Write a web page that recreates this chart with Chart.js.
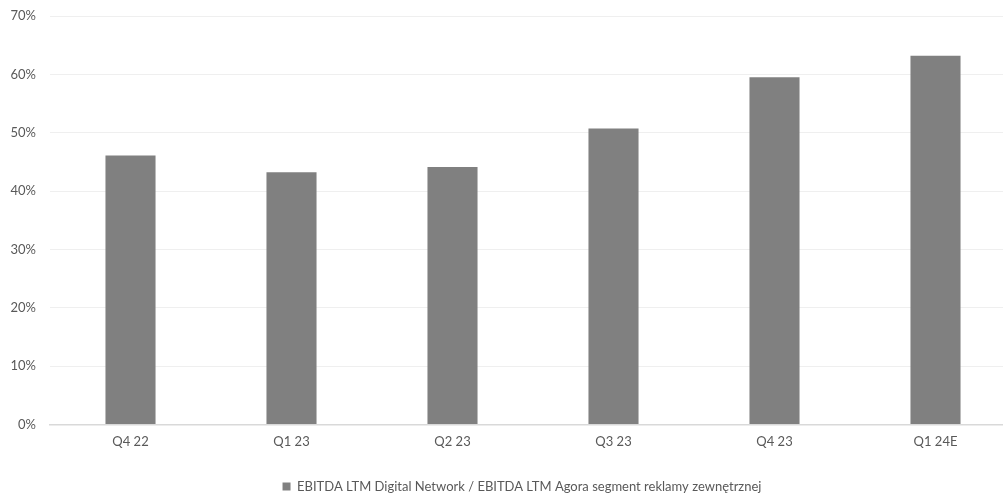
<!DOCTYPE html>
<html>
<head>
<meta charset="utf-8">
<script src="https://cdn.jsdelivr.net/npm/chart.js@4"></script>
<style>
  html, body { margin: 0; padding: 0; background: #ffffff; overflow: hidden; }
  #wrap { width: 1016px; height: 495px; position: relative; }
</style>
</head>
<body>
<div id="wrap"><canvas id="chart"></canvas></div>
<script>
// Quarterly ratio of LTM EBITDA: Digital Network vs. Agora outdoor advertising segment
const quarters = ['Q4 22', 'Q1 23', 'Q2 23', 'Q3 23', 'Q4 23', 'Q1 24E'];
const ratioPct = [46.1, 43.2, 44.1, 50.7, 59.5, 63.2];
const seriesLabel = 'EBITDA LTM Digital Network / EBITDA LTM Agora segment reklamy zewnętrznej';
const yMin = 0, yMax = 70, yStep = 10;

const fontFamily = "Lato, 'Open Sans', 'Liberation Sans', sans-serif";
const textColor = '#595959';

// Nudge the legend block so it sits a little lower and right of the default spot
const legendNudge = {
  id: 'legendNudge',
  afterLayout(chart) {
    const lg = chart.legend;
    if (!lg) return;
    lg.left += 14; lg.right += 14;
    lg.top += 10; lg.bottom += 10;
    if (lg.legendHitBoxes) {
      lg.legendHitBoxes.forEach(b => { b.left += 14; b.top += 10; });
    }
  }
};

new Chart(document.getElementById('chart'), {
  type: 'bar',
  data: {
    labels: quarters,
    datasets: [{
      label: seriesLabel,
      data: ratioPct,
      backgroundColor: '#808080',
      borderWidth: 0,
      categoryPercentage: 1.0,
      barPercentage: 0.311
    }]
  },
  plugins: [legendNudge],
  options: {
    responsive: true,
    maintainAspectRatio: false,
    animation: false,
    layout: { padding: { top: 16, left: 0, right: 0, bottom: 2 } },
    plugins: {
      tooltip: { enabled: false },
      legend: {
        position: 'bottom',
        labels: {
          boxWidth: 8,
          boxHeight: 8,
          color: textColor,
          padding: 10,
          font: { family: fontFamily, size: 13 }
        }
      }
    },
    scales: {
      x: {
        grid: { display: false, drawTicks: false },
        border: { display: true, color: '#d9d9d9', width: 1.5 },
        ticks: {
          color: textColor,
          padding: 10,
          font: { family: fontFamily, size: 13 }
        }
      },
      y: {
        min: yMin,
        max: yMax,
        afterFit(axis) { axis.width = 50; axis.paddingTop = 0; },
        grid: { color: '#efefef', lineWidth: 1, drawTicks: false },
        border: { display: false },
        ticks: {
          stepSize: yStep,
          color: textColor,
          padding: 14,
          font: { family: fontFamily, size: 13 },
          callback: v => v + '%'
        }
      }
    }
  }
});
</script>
</body>
</html>
